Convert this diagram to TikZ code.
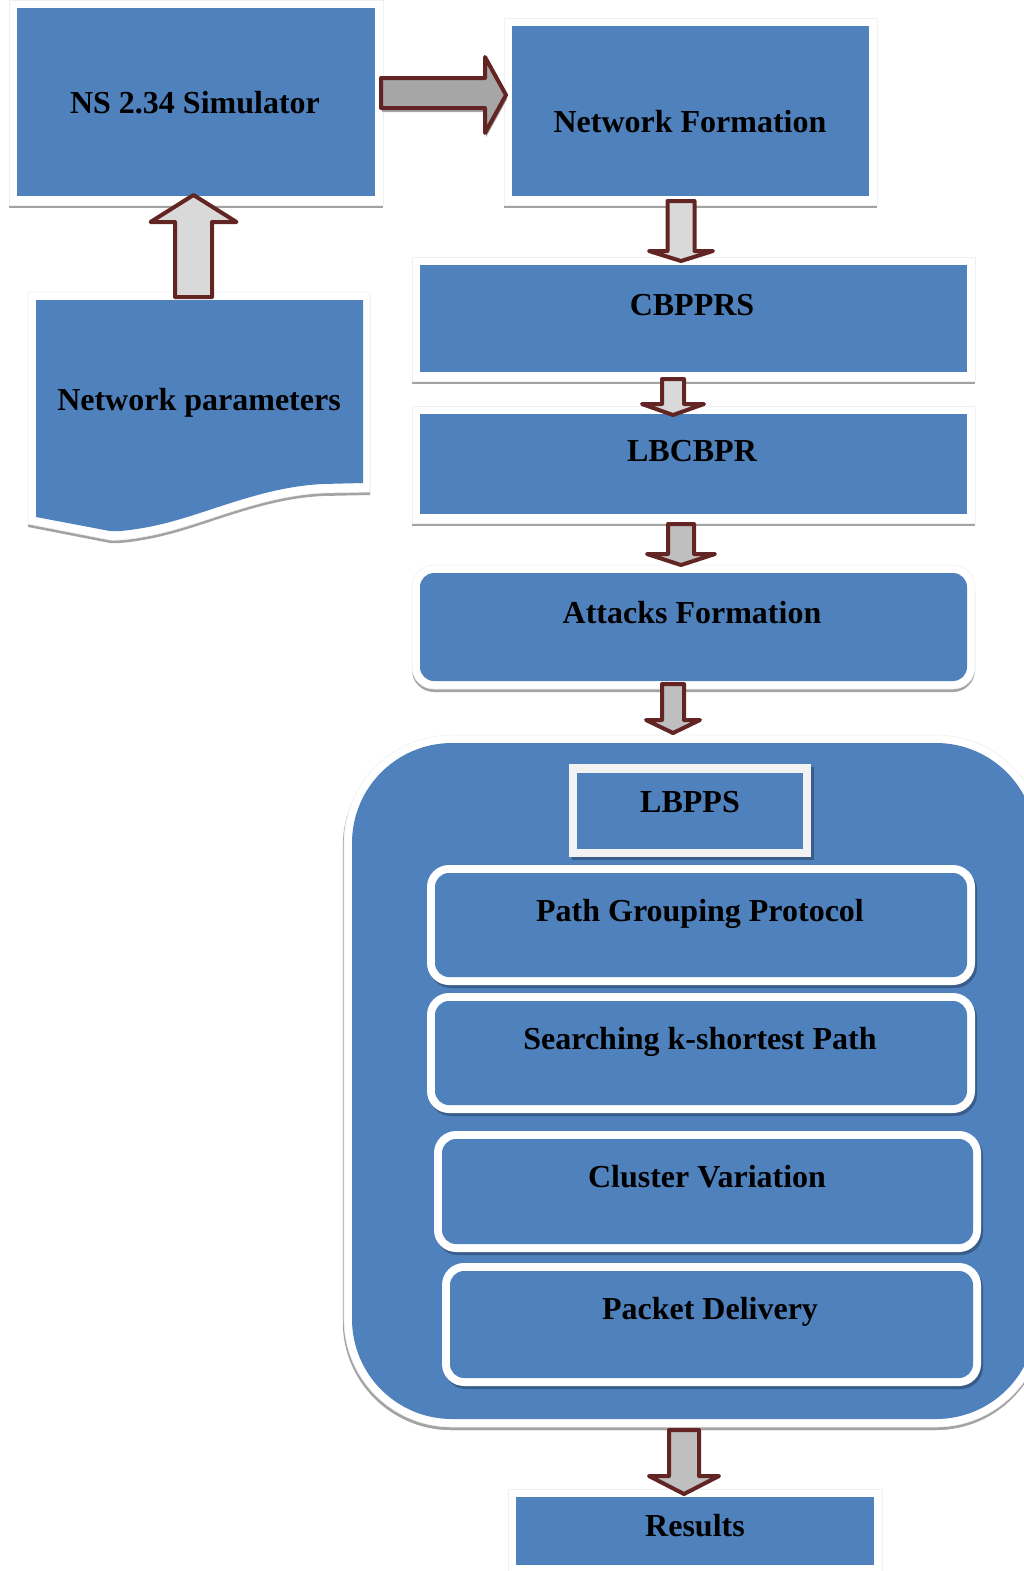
\documentclass[tikz,border=0pt]{standalone}
\usepackage{fontspec}
\setmainfont{Liberation Serif}
\usetikzlibrary{fit}
\definecolor{boxblue}{HTML}{4F81BD}
\definecolor{arrowred}{HTML}{632523}
\definecolor{shadowgray}{HTML}{A3A3A3}
\definecolor{innershadow}{HTML}{385D8A}
\definecolor{paleframe}{HTML}{F2F2F2}
\definecolor{fillmid}{HTML}{A6A6A6}
\definecolor{filllight}{HTML}{D9D9D9}
\definecolor{fillsoft}{HTML}{BFBFBF}

% vertical block arrow: fill, centre x, shaft start y, head base y, tip y, half shaft, half head
\newcommand\vblockarrow[7]{%
  \filldraw[blockarrow, fill=#1] ({#2-#6},#3) -- ({#2+#6},#3) -- ({#2+#6},#4) -- ({#2+#7},#4)
    -- (#2,#5) -- ({#2-#7},#4) -- ({#2-#6},#4) -- cycle;}

\tikzset{
  boxbase/.style={inner sep=0pt, outer sep=0pt},
  outerframe/.style={boxbase, fill=white, draw=black!6, line width=0.3pt,
    preaction={fill=shadowgray, transform canvas={yshift=-1.5pt}}},
  bluebox/.style={boxbase, fill=boxblue},
  innerframe/.style={boxbase, fill=white, rounded corners=11pt,
    preaction={fill=innershadow, transform canvas={shift={(1pt,-1.5pt)}}}},
  innerblue/.style={boxbase, fill=boxblue, rounded corners=7pt},
  lbl/.style={font=\fontsize{16}{19}\selectfont\bfseries, anchor=base, inner sep=0pt},
  blockarrow/.style={draw=arrowred, line width=2pt, line join=round}
}

\begin{document}
\begin{tikzpicture}[x=0.5pt,y=-0.5pt]

\useasboundingbox (0,0) rectangle (1024,1571);
\clip (0,0) rectangle (1024,1571);

% NS 2.34 Simulator
\node[outerframe, fit={(9,0) (383,205)}] (nsframe) {};
\node[bluebox, fit={(17,8) (375,196)}] (ns) {};
\node[lbl] (nstext) at (195,113) {NS 2.34 Simulator};

% Network Formation
\node[outerframe, fit={(504,18) (877,205)}] (nfframe) {};
\node[bluebox, fit={(512,26) (869,196)}] (nf) {};
\node[lbl] (nftext) at (690,132) {Network Formation};

% Network parameters (document shape with wavy lower edge)
\path[fill=shadowgray, transform canvas={yshift=-1.5pt}]
  (28,292) -- (370,292) -- (370,492) -- (322,493) .. controls (265,496) and (215,519) .. (170,531)
  .. controls (140,539) and (115,541) .. (110,540) -- (28,524) -- cycle;
\path[fill=white, draw=black!6, line width=0.3pt]
  (28,292) -- (370,292) -- (370,492) -- (322,493) .. controls (265,496) and (215,519) .. (170,531)
  .. controls (140,539) and (115,541) .. (110,540) -- (28,524) -- cycle;
\path[fill=boxblue]
  (36,300) -- (363,300) -- (363,483) -- (322,484) .. controls (265,487) and (215,510) .. (170,522)
  .. controls (140,530) and (115,532) .. (110,531) -- (36,517) -- cycle;
\node[lbl] (nptext) at (199,410) {Network parameters};

% CBPPRS
\node[outerframe, fit={(412,257) (975,381)}] (cbframe) {};
\node[bluebox, fit={(420,265) (967,372)}] (cb) {};
\node[lbl] (cbtext) at (692,315) {CBPPRS};

% LBCBPR
\node[outerframe, fit={(412,406) (975,523)}] (lbframe) {};
\node[bluebox, fit={(420,414) (967,514)}] (lb) {};
\node[lbl] (lbtext) at (692,461) {LBCBPR};

% Attacks Formation
\node[outerframe, rounded corners=11pt, fit={(412,565) (975,689)}] (afframe) {};
\node[bluebox, rounded corners=7pt, fit={(420,573) (967,681)}] (af) {};
\node[lbl] (aftext) at (692,623) {Attacks Formation};

% LBPPS container
\node[outerframe, rounded corners=54pt,
      preaction={fill=shadowgray, transform canvas={shift={(-0.6pt,-1.5pt)}}},
      fit={(344,735) (1044,1427)}] (lpframe) {};
\node[bluebox, rounded corners=50pt, fit={(352,743) (1036,1419)}] (lp) {};

\node[boxbase, fill=paleframe,
      preaction={fill=innershadow, transform canvas={shift={(1.5pt,-1.5pt)}}},
      fit={(569,764) (811,857)}] (lbppsframe) {};
\node[bluebox, fit={(577,773) (803,849)}] (lbpps) {};
\node[lbl] (lbppstext) at (690,812) {LBPPS};

\node[innerframe, fit={(427,865) (975,985)}] (pgframe) {};
\node[innerblue, fit={(435,873) (967,977)}] (pg) {};
\node[lbl] (pgtext) at (700,921) {Path Grouping Protocol};

\node[innerframe, fit={(427,993) (975,1113)}] (skframe) {};
\node[innerblue, fit={(435,1001) (967,1105)}] (sk) {};
\node[lbl] (sktext) at (700,1049) {Searching k-shortest Path};

\node[innerframe, fit={(434,1131) (981,1252)}] (cvframe) {};
\node[innerblue, fit={(442,1139) (973,1244)}] (cv) {};
\node[lbl] (cvtext) at (707,1187) {Cluster Variation};

\node[innerframe, fit={(442,1263) (981,1386)}] (pdframe) {};
\node[innerblue, fit={(450,1271) (973,1378)}] (pd) {};
\node[lbl] (pdtext) at (710,1319) {Packet Delivery};

% Results
\node[outerframe, fit={(508,1489) (882,1575)}] (resframe) {};
\node[bluebox, fit={(516,1497) (874,1565)}] (res) {};
\node[lbl] (restext) at (695,1536) {Results};

% block arrows
\filldraw[blockarrow, fill=fillmid,
    preaction={fill=black!35, transform canvas={shift={(0.6pt,-2pt)}}}]
  (381,78) -- (485,78) -- (485,57) -- (506,95) -- (485,133) -- (485,108) -- (381,108) -- cycle;
\vblockarrow{filllight}{193.5}{297}{222}{195}{18.5}{43}
\vblockarrow{filllight}{681}{201}{251}{261}{13.5}{32}
\vblockarrow{filllight}{673}{379}{404}{415}{11}{31}
\vblockarrow{fillsoft}{681}{524}{554}{565}{13}{34}
\vblockarrow{fillsoft}{673}{684}{720}{733}{11}{27}
\vblockarrow{fillsoft}{684}{1430}{1476}{1494}{15}{35}

\end{tikzpicture}
\end{document}
